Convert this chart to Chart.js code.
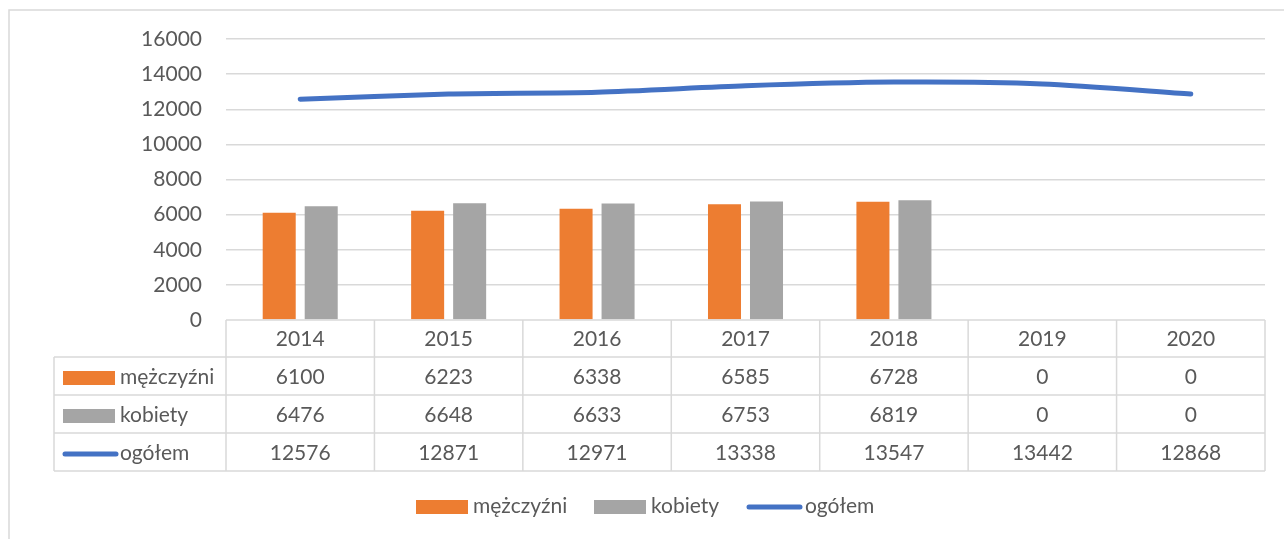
<!DOCTYPE html>
<html>
<head>
<meta charset="utf-8">
<script src="https://cdn.jsdelivr.net/npm/chart.js@4.4.0/dist/chart.umd.min.js"></script>
<style>
  html, body { margin: 0; padding: 0; background: #fff; }
  #wykres { display: block; }
</style>
</head>
<body>
<canvas id="wykres" width="1284" height="539"></canvas>
<script>
const lata = ["2014", "2015", "2016", "2017", "2018", "2019", "2020"];
const mezczyzni = [6100, 6223, 6338, 6585, 6728, 0, 0];
const kobiety = [6476, 6648, 6633, 6753, 6819, 0, 0];
const ogolem = [12576, 12871, 12971, 13338, 13547, 13442, 12868];
const osY = [0, 2000, 4000, 6000, 8000, 10000, 12000, 14000, 16000];

const kolorTekstu = "#595959";
const kolorSiatki = "#D9D9D9";
const czcionka = "21px Lato";

// rysuje ramke, tabele danych i legende pod wykresem
const tabelaDanych = {
  id: "tabelaDanych",
  afterDraw(chart) {
    const ctx = chart.ctx;
    const x = chart.scales.x;
    const area = chart.chartArea;
    const szer = (area.right - area.left) / lata.length;
    const wys = 38;
    const gora = area.bottom;
    const lewaKol = 54;

    ctx.save();
    ctx.strokeStyle = kolorSiatki;
    ctx.lineWidth = 1.5;

    // ramka wykresu
    ctx.beginPath();
    ctx.moveTo(9, chart.height);
    ctx.lineTo(9, 10);
    ctx.lineTo(chart.width, 10);
    ctx.stroke();

    // linie tabeli
    ctx.beginPath();
    ctx.moveTo(area.left, gora);
    ctx.lineTo(area.right, gora);
    for (let r = 1; r <= 4; r++) {
      ctx.moveTo(lewaKol, gora + r * wys - 1);
      ctx.lineTo(area.right, gora + r * wys - 1);
    }
    ctx.moveTo(lewaKol, gora + wys - 1);
    ctx.lineTo(lewaKol, gora + 4 * wys - 1);
    for (let i = 0; i <= lata.length; i++) {
      const px = area.left + i * szer;
      ctx.moveTo(px, gora);
      ctx.lineTo(px, gora + 4 * wys - 1);
    }
    ctx.stroke();

    ctx.font = czcionka;
    ctx.fillStyle = kolorTekstu;
    ctx.textAlign = "center";
    ctx.textBaseline = "middle";
    const wiersze = [lata, mezczyzni, kobiety, ogolem];
    wiersze.forEach((wiersz, r) => {
      wiersz.forEach((v, i) => {
        ctx.fillText(String(v), x.getPixelForValue(i), gora + r * wys + wys / 2);
      });
    });

    // klucze legendy w tabeli
    const serie = chart.data.datasets;
    ctx.textAlign = "left";
    serie.forEach((ds, r) => {
      const cy = gora + (r + 1) * wys + wys / 2;
      rysujKlucz(ctx, ds, 63, cy);
      ctx.fillStyle = kolorTekstu;
      ctx.fillText(ds.label, 120, cy);
    });

    // legenda na dole
    const pozycje = [416, 594, 747];
    serie.forEach((ds, i) => {
      rysujKlucz(ctx, ds, pozycje[i], 506);
      ctx.fillStyle = kolorTekstu;
      ctx.fillText(ds.label, pozycje[i] + (i === 2 ? 58 : 57), 506);
    });
    ctx.restore();
  },
};

function rysujKlucz(ctx, ds, x0, cy) {
  if (ds.type === "line") {
    ctx.strokeStyle = ds.borderColor;
    ctx.lineWidth = 5;
    ctx.lineCap = "round";
    ctx.beginPath();
    ctx.moveTo(x0 + 2, cy + 1);
    ctx.lineTo(x0 + 53, cy + 1);
    ctx.stroke();
  } else {
    ctx.fillStyle = ds.backgroundColor;
    ctx.fillRect(x0, cy - 6, 52, 14);
  }
}

new Chart(document.getElementById("wykres"), {
  data: {
    labels: lata,
    datasets: [
      {
        type: "bar",
        label: "mężczyźni",
        data: mezczyzni,
        backgroundColor: "#ED7D31",
        order: 2,
      },
      {
        type: "bar",
        label: "kobiety",
        data: kobiety,
        backgroundColor: "#A5A5A5",
        order: 2,
      },
      {
        type: "line",
        label: "ogółem",
        data: ogolem,
        borderColor: "#4472C4",
        backgroundColor: "#4472C4",
        borderWidth: 5,
        borderCapStyle: "round",
        pointRadius: 0,
        tension: 0.25,
        order: 1,
      },
    ],
  },
  options: {
    responsive: false,
    animation: false,
    datasets: {
      bar: {
        categoryPercentage: 0.566,
        barPercentage: 0.786,
      },
    },
    layout: {
      padding: { top: 39, bottom: 219, right: 19, left: 0 },
    },
    plugins: {
      legend: { display: false },
      tooltip: { enabled: false },
    },
    scales: {
      x: {
        display: false,
        offset: true,
      },
      y: {
        min: 0,
        max: 16000,
        afterFit(scale) {
          scale.width = 226;
        },
        afterBuildTicks(scale) {
          scale.ticks = osY.map((v) => ({ value: v }));
        },
        border: { display: false },
        grid: {
          color: (c) => (c.tick.value === 0 ? "rgba(0,0,0,0)" : kolorSiatki),
          lineWidth: 1.5,
          drawTicks: false,
        },
        ticks: {
          color: kolorTekstu,
          font: { family: "Lato", size: 21 },
          padding: 24,
          callback: (v) => String(v),
        },
      },
    },
  },
  plugins: [tabelaDanych],
});
</script>
</body>
</html>
